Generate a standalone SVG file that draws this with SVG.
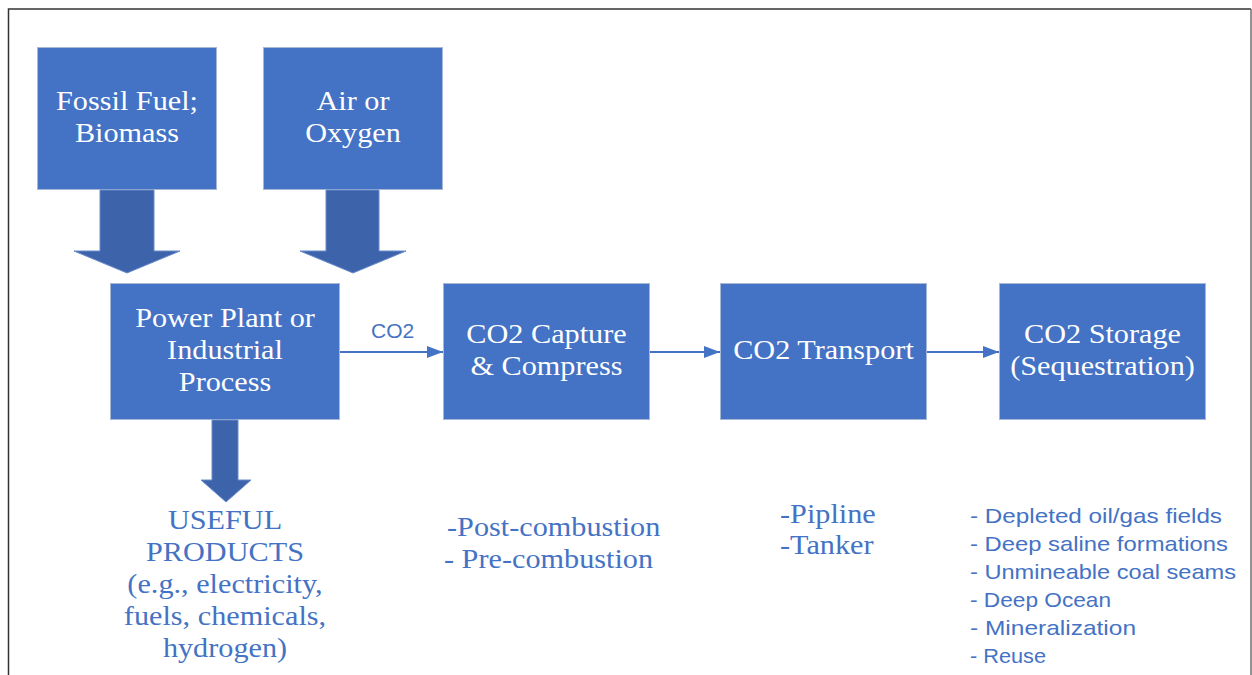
<svg xmlns="http://www.w3.org/2000/svg" width="1252" height="675" viewBox="0 0 1252 675">
  <style>
    .box { fill: #4472C4; stroke: #A7B7D6; stroke-width: 1; }
    .fat { fill: #3D63AB; stroke: #6A8CCB; stroke-width: 1; }
    .lbl { font-family: "Liberation Serif", "Times New Roman", serif; font-size: 27px; fill: #FFFFFF; text-anchor: middle; }
    .note { font-family: "Liberation Serif", "Times New Roman", serif; font-size: 27px; fill: #4472C4; }
    .mid { text-anchor: middle; }
    .list { font-family: "Liberation Sans", Arial, sans-serif; font-size: 21px; fill: #4472C4; }
    .flow { stroke: #4472C4; stroke-width: 2; fill: none; }
  </style>
  <defs>
    <marker id="tip" markerWidth="8" markerHeight="6" refX="8" refY="3" orient="auto" markerUnits="strokeWidth">
      <path d="M0,0 L8,3 L0,6 Z" fill="#4472C4"/>
    </marker>
  </defs>

  <rect width="1252" height="675" fill="#FFFFFF"/>
  <!-- frame -->
  <path d="M8.5,675 V9 H1251" fill="none" stroke="#333333" stroke-width="1.5"/>
  <path d="M1251,9 V675" fill="none" stroke="#6E6E6E" stroke-width="1.5"/>

  <g id="fuel">
    <rect class="box" x="37.5" y="47.5" width="179" height="142"/>
    <text class="lbl" transform="translate(127,110) scale(1.12,1)">Fossil Fuel;</text>
    <text class="lbl" transform="translate(127,142) scale(1.12,1)">Biomass</text>
  </g>

  <g id="air">
    <rect class="box" x="263.5" y="47.5" width="179" height="142"/>
    <text class="lbl" transform="translate(353,110) scale(1.12,1)">Air or</text>
    <text class="lbl" transform="translate(353,142) scale(1.12,1)">Oxygen</text>
  </g>

  <g id="plant">
    <rect class="box" x="110.5" y="283.5" width="229" height="136"/>
    <text class="lbl" transform="translate(225,327) scale(1.12,1)">Power Plant or</text>
    <text class="lbl" transform="translate(225,359) scale(1.12,1)">Industrial</text>
    <text class="lbl" transform="translate(225,391) scale(1.12,1)">Process</text>
  </g>

  <g id="capture">
    <rect class="box" x="443.5" y="283.5" width="206" height="136"/>
    <text class="lbl" transform="translate(546.5,343) scale(1.12,1)">CO2 Capture</text>
    <text class="lbl" transform="translate(546.5,375) scale(1.12,1)">&amp; Compress</text>
  </g>

  <g id="transport">
    <rect class="box" x="720.5" y="283.5" width="206" height="136"/>
    <text class="lbl" transform="translate(823.5,359) scale(1.12,1)">CO2 Transport</text>
  </g>

  <g id="storage">
    <rect class="box" x="999.5" y="283.5" width="206" height="136"/>
    <text class="lbl" transform="translate(1102.5,343) scale(1.12,1)">CO2 Storage</text>
    <text class="lbl" transform="translate(1102.5,375) scale(1.12,1)">(Sequestration)</text>
  </g>

  <g id="products">
    <text class="note mid" transform="translate(225,529) scale(1.12,1)">USEFUL</text>
    <text class="note mid" transform="translate(225,561) scale(1.12,1)">PRODUCTS</text>
    <text class="note mid" transform="translate(225,593) scale(1.12,1)">(e.g., electricity,</text>
    <text class="note mid" transform="translate(225,625) scale(1.12,1)">fuels, chemicals,</text>
    <text class="note mid" transform="translate(225,657) scale(1.12,1)">hydrogen)</text>
  </g>

  <g id="capture-notes">
    <text class="note" transform="translate(447,536) scale(1.12,1)">-Post-combustion</text>
    <text class="note" transform="translate(444,568) scale(1.12,1)">- Pre-combustion</text>
  </g>

  <g id="transport-notes">
    <text class="note" transform="translate(780,523) scale(1.12,1)">-Pipline</text>
    <text class="note" transform="translate(780,554) scale(1.12,1)">-Tanker</text>
  </g>

  <g id="storage-notes">
    <text class="list" x="970" y="523" textLength="252" lengthAdjust="spacingAndGlyphs">- Depleted oil/gas fields</text>
    <text class="list" x="970" y="551" textLength="258" lengthAdjust="spacingAndGlyphs">- Deep saline formations</text>
    <text class="list" x="970" y="579" textLength="266" lengthAdjust="spacingAndGlyphs">- Unmineable coal seams</text>
    <text class="list" x="970" y="607" textLength="141" lengthAdjust="spacingAndGlyphs">- Deep Ocean</text>
    <text class="list" x="970" y="635" textLength="166" lengthAdjust="spacingAndGlyphs">- Mineralization</text>
    <text class="list" x="970" y="663" textLength="76" lengthAdjust="spacingAndGlyphs">- Reuse</text>
  </g>

  <g id="connectors">
    <!-- block arrows feeding and leaving the plant -->
    <path class="fat" d="M100,190 H154 V251 H180 L127,273 L74,251 H100 Z"/>
    <path class="fat" d="M326,190 H379 V251 H406 L353,273 L300,251 H326 Z"/>
    <path class="fat" d="M212,420 H238 V480 H251 L226,502 L201,480 H212 Z"/>
    <!-- CO2 flow line -->
    <line class="flow" x1="340" y1="352" x2="443" y2="352" marker-end="url(#tip)"/>
    <line class="flow" x1="650" y1="352" x2="720" y2="352" marker-end="url(#tip)"/>
    <line class="flow" x1="927" y1="352" x2="999" y2="352" marker-end="url(#tip)"/>
    <text class="list" x="371" y="338" font-size="19">CO2</text>
  </g>
</svg>
